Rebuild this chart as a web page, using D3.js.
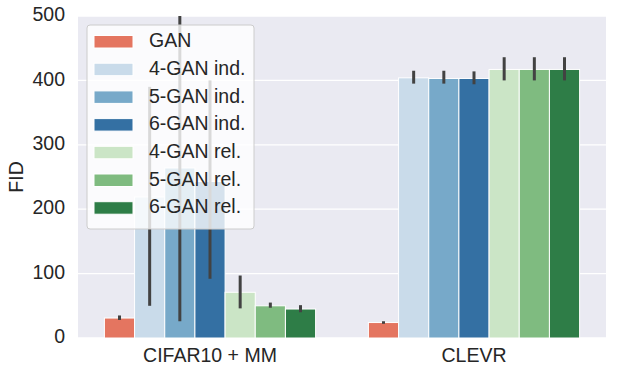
<!DOCTYPE html>
<html><head>
<meta charset="utf-8">
<script src="https://d3js.org/d3.v7.min.js"></script>
<style>
  body { margin: 0; background: #ffffff; }
  text { font-family: Arial, "Liberation Sans", sans-serif; fill: #262626; }
</style>
</head>
<body>
<svg id="chart" width="623" height="377"></svg>
<script>
  // data
  const datasets = ["CIFAR10 + MM", "CLEVR"];
  const models = ["GAN", "4-GAN ind.", "5-GAN ind.", "6-GAN ind.", "4-GAN rel.", "5-GAN rel.", "6-GAN rel."];
  const colors = ["#e47560", "#c9dbea", "#77a9c9", "#3470a3", "#cbe5c6", "#7fbb80", "#2e7d47"];
  const cifarFid = [31, 219, 264, 243, 71, 50, 45];
  const cifarLow = [28, 50, 26, 92, 46, 47, 40];
  const cifarHigh = [35, 390, 560, 400, 97, 55, 51];
  const clevrFid = [24, 404, 403, 403, 417, 417, 417];
  const clevrLow = [22, 395, 395, 394, 400, 400, 400];
  const clevrHigh = [26, 415, 415, 414, 436, 436, 436];
  const yTicks = [0, 100, 200, 300, 400, 500];

  const svg = d3.select("svg#chart");
  const pLeft = 78, pRight = 606, pTop = 16, pBottom = 338;

  let x = d3.scaleBand().domain(datasets).range([pLeft, pRight]).paddingInner(0.2).paddingOuter(0.1);
  let xs = d3.scaleBand().domain(models).range([0, x.bandwidth()]);
  let y = d3.scaleLinear().domain([0, 500]).range([pBottom, pTop]);

  svg.append("rect")
     .attr("x", pLeft).attr("y", pTop)
     .attr("width", pRight - pLeft).attr("height", pBottom - pTop)
     .style("fill", "#eaeaf2");

  yTicks.forEach(t => {
    svg.append("line")
       .attr("x1", pLeft).attr("x2", pRight)
       .attr("y1", y(t)).attr("y2", y(t))
       .style("stroke", "#ffffff").style("stroke-width", 1.3);
    svg.append("text")
       .text(t)
       .attr("x", pLeft - 13).attr("y", y(t))
       .style("font-size", "19.5px")
       .style("text-anchor", "end")
       .style("dominant-baseline", "middle");
  });

  const rows = [];
  datasets.forEach((ds, j) => {
    const v = j == 0 ? cifarFid : clevrFid;
    const lo = j == 0 ? cifarLow : clevrLow;
    const hi = j == 0 ? cifarHigh : clevrHigh;
    models.forEach((m, i) => rows.push({ds: ds, m: m, i: i, v: v[i], lo: lo[i], hi: hi[i]}));
  });

  svg.append("clipPath").attr("id", "clip")
     .append("rect").attr("x", pLeft).attr("y", pTop).attr("width", pRight - pLeft).attr("height", pBottom - pTop);
  const plot = svg.append("g").attr("clip-path", "url(#clip)");

  rows.forEach(d => {
    plot.append("rect")
        .attr("x", x(d.ds) + xs(d.m))
        .attr("y", y(d.v))
        .attr("width", xs.bandwidth())
        .attr("height", y(0) - y(d.v))
        .style("fill", colors[d.i])
        .style("stroke", "#ffffff")
        .style("stroke-width", 1);
  });

  rows.forEach(d => {
    const cx = x(d.ds) + xs(d.m) + xs.bandwidth() / 2;
    plot.append("line")
        .attr("x1", cx).attr("x2", cx)
        .attr("y1", y(d.lo)).attr("y2", y(d.hi))
        .style("stroke", "#424242")
        .style("stroke-width", 3);
  });

  datasets.forEach(ds => {
    svg.append("text")
       .text(ds)
       .attr("x", x(ds) + x.bandwidth() / 2)
       .attr("y", 357)
       .style("font-size", "19.5px")
       .style("text-anchor", "middle")
       .style("dominant-baseline", "middle");
  });

  svg.append("text")
     .text("FID")
     .attr("transform", "translate(18," + ((pTop + pBottom) / 2) + ") rotate(-90)")
     .style("font-size", "19.5px")
     .style("text-anchor", "middle")
     .style("dominant-baseline", "middle");

  // legend
  const lg = svg.append("g").attr("transform", "translate(87,25)");
  lg.append("rect")
    .attr("width", 167).attr("height", 204)
    .attr("rx", 3)
    .style("fill", "#ffffff").style("fill-opacity", 0.8)
    .style("stroke", "#cccccc").style("stroke-width", 1);
  models.forEach((m, i) => {
    lg.append("rect")
      .attr("x", 7).attr("y", 10.5 + i * 27.7)
      .attr("width", 39).attr("height", 12.5)
      .style("fill", colors[i])
      .style("stroke", "#ffffff").style("stroke-width", 1);
    lg.append("text")
      .text(m)
      .attr("x", 62).attr("y", 17 + i * 27.7)
      .style("font-size", "19.5px")
      .style("dominant-baseline", "middle");
  });
</script>
</body>
</html>
